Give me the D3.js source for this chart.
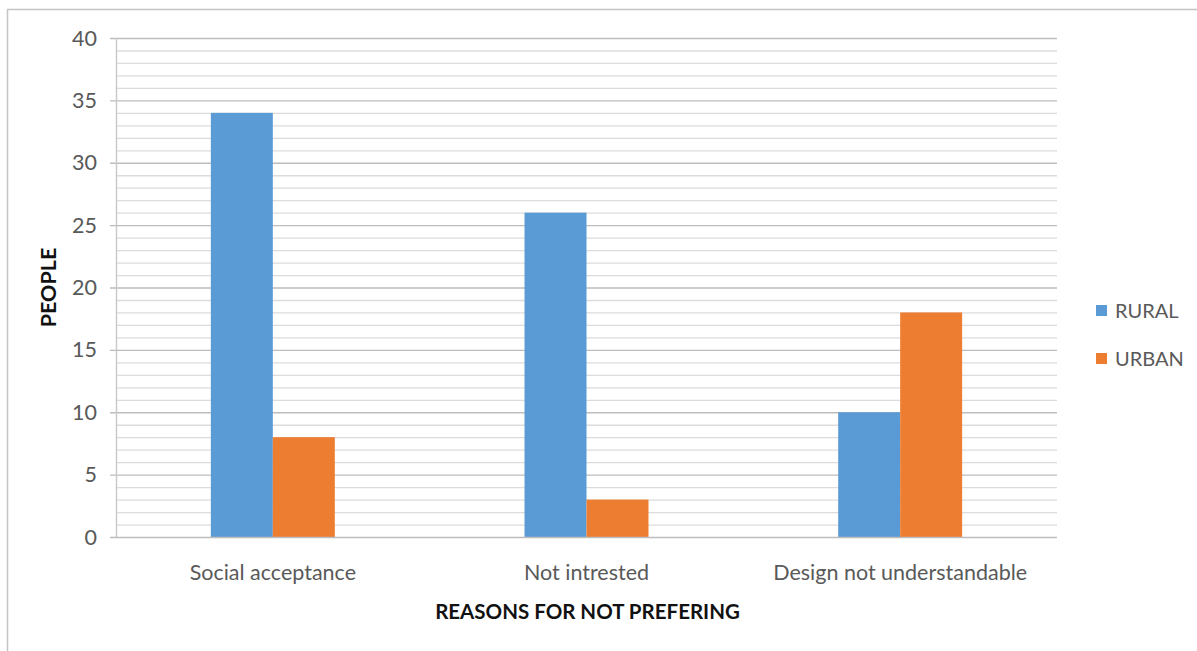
<!DOCTYPE html>
<html>
<head>
<meta charset="utf-8">
<script src="https://cdn.jsdelivr.net/npm/d3@7"></script>
<style>
  html, body { margin: 0; padding: 0; background: #fff; }
  svg { display: block; font-family: Lato, "Open Sans", sans-serif; }
</style>
</head>
<body>
<svg id="chart" width="1197" height="651"></svg>
<script>
// Reasons people gave for not preferring the design, split by area
const categories = ["Social acceptance", "Not intrested", "Design not understandable"];
const seriesNames = ["RURAL", "URBAN"];
const rural = [34, 26, 10];
const urban = [8, 3, 18];
const yTicks = [0, 5, 10, 15, 20, 25, 30, 35, 40];
const colors = ["#5b9bd5", "#ed7d31"];

const svg = d3.select("#chart");
const margin = { left: 116, right: 1057, top: 38, bottom: 537 };

// Outer frame (top and left edges visible)
svg.append("path")
  .attr("d", "M7.5,651 V9.5 H1197")
  .attr("fill", "none")
  .attr("stroke", "#c4c4c4")
  .attr("stroke-width", 1.5);

const x = d3.scaleBand()
  .domain(categories)
  .range([margin.left, margin.right])
  .paddingInner(0)
  .paddingOuter(0);

const x1 = d3.scaleBand()
  .domain(seriesNames)
  .range([0, x.bandwidth()])
  .paddingInner(0)
  .paddingOuter(1.53);

const y = d3.scaleLinear().domain([0, 40]).range([margin.bottom, margin.top]);

// Minor gridlines every unit, major every five
const minor = d3.range(1, 41).filter(v => v % 5 !== 0);
svg.append("g").selectAll("line").data(minor).join("line")
  .attr("x1", margin.left).attr("x2", margin.right)
  .attr("y1", d => y(d) + 0.5).attr("y2", d => y(d) + 0.5)
  .attr("stroke", "#dcdcdc").attr("stroke-width", 1.3);

svg.append("g").selectAll("line").data(yTicks.filter(v => v > 0)).join("line")
  .attr("x1", margin.left - 6).attr("x2", margin.right)
  .attr("y1", d => y(d) + 0.5).attr("y2", d => y(d) + 0.5)
  .attr("stroke", "#bdbdbd").attr("stroke-width", 1.4);

// Y axis line and labels
svg.append("line")
  .attr("x1", margin.left + 0.5).attr("x2", margin.left + 0.5)
  .attr("y1", margin.top).attr("y2", margin.bottom)
  .attr("stroke", "#c8c8c8").attr("stroke-width", 1.4);

svg.append("g").selectAll("text").data(yTicks).join("text")
  .attr("x", margin.left - 19)
  .attr("y", d => y(d))
  .attr("dy", "0.35em")
  .attr("text-anchor", "end")
  .attr("font-size", 21.5)
  .attr("fill", "#595959")
  .text(d => d);

// Bars
const data = categories.map((c, i) => ({ cat: c, values: [rural[i], urban[i]] }));
const groups = svg.append("g").selectAll("g").data(data).join("g")
  .attr("transform", d => `translate(${x(d.cat)},0)`);
groups.selectAll("rect")
  .data(d => d.values.map((v, j) => ({ key: seriesNames[j], v, j })))
  .join("rect")
  .attr("x", d => x1(d.key))
  .attr("width", x1.bandwidth())
  .attr("y", d => y(d.v))
  .attr("height", d => y(0) - y(d.v))
  .attr("fill", d => colors[d.j]);

// X axis baseline
svg.append("line")
  .attr("x1", margin.left - 6).attr("x2", margin.right)
  .attr("y1", margin.bottom + 0.5).attr("y2", margin.bottom + 0.5)
  .attr("stroke", "#bdbdbd").attr("stroke-width", 1.4);

// Category labels
svg.append("g").selectAll("text").data(categories).join("text")
  .attr("x", d => x(d) + x.bandwidth() / 2)
  .attr("y", 580)
  .attr("text-anchor", "middle")
  .attr("font-size", 21.5)
  .attr("fill", "#595959")
  .text(d => d);

// Axis titles
svg.append("text")
  .attr("x", (margin.left + margin.right) / 2 + 1)
  .attr("y", 619)
  .attr("text-anchor", "middle")
  .attr("font-size", 20.5)
  .attr("font-weight", "bold")
  .attr("fill", "#111")
  .text("REASONS FOR NOT PREFERING");

svg.append("text")
  .attr("transform", `translate(56,${(margin.top + margin.bottom) / 2}) rotate(-90)`)
  .attr("text-anchor", "middle")
  .attr("font-size", 21.5)
  .attr("font-weight", "bold")
  .attr("fill", "#111")
  .text("PEOPLE");

// Legend
const legend = svg.append("g").selectAll("g").data(seriesNames).join("g")
  .attr("transform", (d, i) => `translate(1096,${305 + i * 48})`);
legend.append("rect")
  .attr("width", 11).attr("height", 11)
  .attr("fill", (d, i) => colors[i]);
legend.append("text")
  .attr("x", 19).attr("y", 5.5)
  .attr("dy", "0.35em")
  .attr("font-size", 20)
  .attr("fill", "#595959")
  .text(d => d);
</script>
</body>
</html>
